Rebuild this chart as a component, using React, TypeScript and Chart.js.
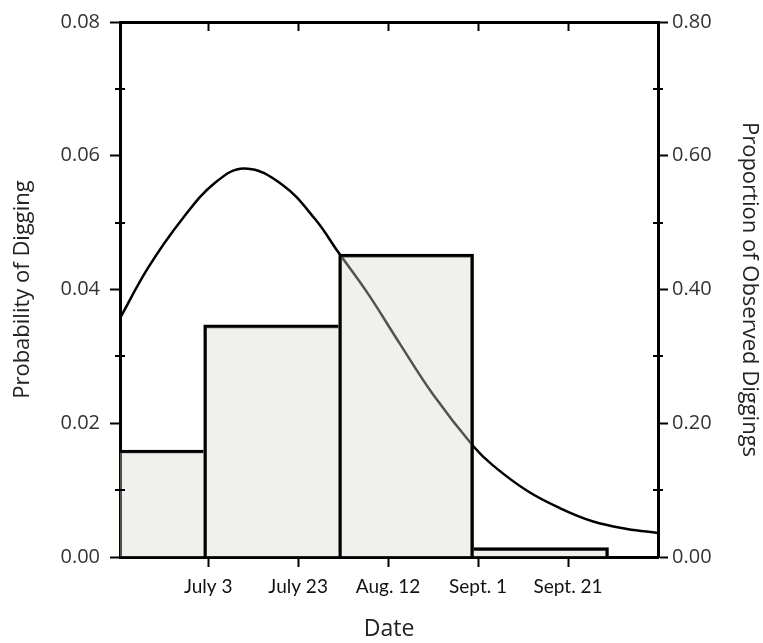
import { useEffect, useRef } from "react";
import { Chart, registerables, Plugin } from "chart.js";

Chart.register(...registerables);

// x values are day of year (July 3 = 184)
const dayRange = [164.4, 284];
const dateTickDays = [184, 204, 224, 244, 264];
const dateTickLabels = ["July 3", "July 23", "Aug. 12", "Sept. 1", "Sept. 21"];

// 30-day bins (centre day) and the share of observed diggings in each
const binCentres = [168, 198, 228, 258];
const binProportions = [0.16, 0.347, 0.453, 0.014];

// fitted probability curve
const curveDays = [
  164.4, 170.7, 178.2, 185.6, 192.2, 200.4, 207.8, 212.9, 219.3, 226.7, 234.0,
  242.9, 247.3, 254.9, 262.2, 269.6, 277.1, 284,
];
const curveProbability = [
  0.0357, 0.0433, 0.0505, 0.056, 0.0581, 0.0557, 0.0505, 0.0456, 0.0396,
  0.0318, 0.0243, 0.0166, 0.0137, 0.0099, 0.0073, 0.0053, 0.0042, 0.0036,
];

const probabilityTicks = [0, 0.02, 0.04, 0.06, 0.08];
const probabilityMinor = [0.01, 0.03, 0.05, 0.07];
const proportionTicks = [0, 0.2, 0.4, 0.6, 0.8];
const proportionMinor = [0.1, 0.3, 0.5, 0.7];

const titleFont = { family: "'Open Sans', sans-serif", size: 22 };

// small ticks that cross the two value axes
const minorTicks: Plugin = {
  id: "minorTicks",
  afterDraw(chart) {
    const { ctx, chartArea } = chart;
    const sets: [string, number[], number][] = [
      ["y", probabilityMinor, chartArea.left],
      ["y2", proportionMinor, chartArea.right],
    ];
    ctx.save();
    ctx.strokeStyle = "#000";
    ctx.lineWidth = 2;
    for (const [id, values, edge] of sets) {
      const scale = chart.scales[id];
      for (const v of values) {
        const py = Math.round(scale.getPixelForValue(v));
        ctx.beginPath();
        ctx.moveTo(edge - 5, py);
        ctx.lineTo(edge + 5, py);
        ctx.stroke();
      }
    }
    ctx.restore();
  },
};

export default function App() {
  const canvasRef = useRef<HTMLCanvasElement>(null);

  useEffect(() => {
    if (!canvasRef.current) return;

    const axisGrid = {
      drawOnChartArea: false,
      drawTicks: true,
      tickLength: 10,
      tickWidth: 2,
      tickColor: "#000",
      offset: false,
    };
    const axisBorder = { display: true, width: 3, color: "#000" };

    const chart = new Chart(canvasRef.current, {
      type: "bar",
      data: {
        datasets: [
          {
            type: "bar",
            label: "Observed",
            data: binCentres.map((x, i) => ({ x, y: binProportions[i] })),
            xAxisID: "xBins",
            yAxisID: "y2",
            backgroundColor: "rgba(215,215,205,0.38)",
            borderColor: "#000",
            borderWidth: (c: any) => {
              const i = c.dataIndex;
              const v = binProportions;
              return {
                top: 3,
                left: i === 0 || v[i] >= v[i - 1] ? 3 : 0,
                right: i === v.length - 1 || v[i] > v[i + 1] ? 3 : 0,
                bottom: 0,
              };
            },
            borderSkipped: false,
            grouped: false,
            barPercentage: 1,
            categoryPercentage: 1,
            clip: 0,
            order: 0,
          },
          {
            type: "line",
            label: "Probability",
            data: curveDays.map((x, i) => ({ x, y: curveProbability[i] })),
            xAxisID: "x",
            yAxisID: "y",
            borderColor: "#000",
            borderWidth: 2.5,
            pointRadius: 0,
            fill: false,
            tension: 0.4,
            order: 1,
          },
        ],
      },
      options: {
        animation: false,
        responsive: true,
        maintainAspectRatio: false,
        layout: { padding: { top: 18 } },
        plugins: {
          legend: { display: false },
          tooltip: { enabled: false },
        },
        scales: {
          x: {
            type: "linear",
            position: "bottom",
            offset: false,
            min: dayRange[0],
            max: dayRange[1],
            afterBuildTicks: (s: any) => {
              s.ticks = dateTickDays.map((value) => ({ value }));
            },
            afterFit: (s: any) => {
              s.height = 86;
            },
            grid: axisGrid,
            border: axisBorder,
            ticks: {
              padding: 8,
              maxRotation: 0,
              autoSkip: false,
              color: "#111",
              font: { family: "Lato, sans-serif", size: 19 },
              callback: (_v: any, i: number) => dateTickLabels[i],
            },
            title: {
              display: true,
              text: "Date",
              color: "#222",
              font: { family: "'Open Sans', sans-serif", size: 23 },
              padding: { top: 0, bottom: 0 },
            },
          },
          xTop: {
            type: "linear",
            position: "top",
            offset: false,
            min: dayRange[0],
            max: dayRange[1],
            afterBuildTicks: (s: any) => {
              s.ticks = dateTickDays.map((value) => ({ value }));
            },
            afterFit: (s: any) => {
              s.height = 0;
            },
            grid: { ...axisGrid, tickLength: -9 },
            border: axisBorder,
            ticks: { display: false },
          },
          xBins: {
            type: "linear",
            display: false,
            offset: false,
            min: dayRange[0],
            max: dayRange[1],
            afterBuildTicks: (s: any) => {
              s.ticks = binCentres.map((value) => ({ value }));
            },
          },
          y: {
            type: "linear",
            position: "left",
            min: 0,
            max: 0.08,
            afterBuildTicks: (s: any) => {
              s.ticks = probabilityTicks.map((value) => ({ value }));
            },
            afterFit: (s: any) => {
              s.width = 120;
            },
            grid: axisGrid,
            border: axisBorder,
            ticks: {
              padding: 10,
              color: "#333",
              font: { family: "'Open Sans', sans-serif", size: 20 },
              callback: (v: any) => Number(v).toFixed(2),
            },
            title: {
              display: true,
              text: "Probability of Digging",
              color: "#222",
              font: titleFont,
              padding: { top: 10, bottom: 0 },
            },
          },
          y2: {
            type: "linear",
            position: "right",
            min: 0,
            max: 0.8,
            afterBuildTicks: (s: any) => {
              s.ticks = proportionTicks.map((value) => ({ value }));
            },
            afterFit: (s: any) => {
              s.width = 105;
            },
            grid: axisGrid,
            border: axisBorder,
            ticks: {
              padding: 4,
              color: "#333",
              font: { family: "'Open Sans', sans-serif", size: 20 },
              callback: (v: any) => Number(v).toFixed(2),
            },
            title: {
              display: true,
              text: "Proportion of Observed Diggings",
              color: "#222",
              font: titleFont,
              padding: { top: 1, bottom: 0 },
            },
          },
        },
      },
      plugins: [minorTicks],
    } as any);

    return () => {
      chart.destroy();
    };
  }, []);

  return (
    <div
      style={{
        position: "fixed",
        left: 0,
        top: 0,
        width: 763,
        height: 643,
        background: "#fff",
      }}
    >
      <canvas ref={canvasRef}></canvas>
    </div>
  );
}
